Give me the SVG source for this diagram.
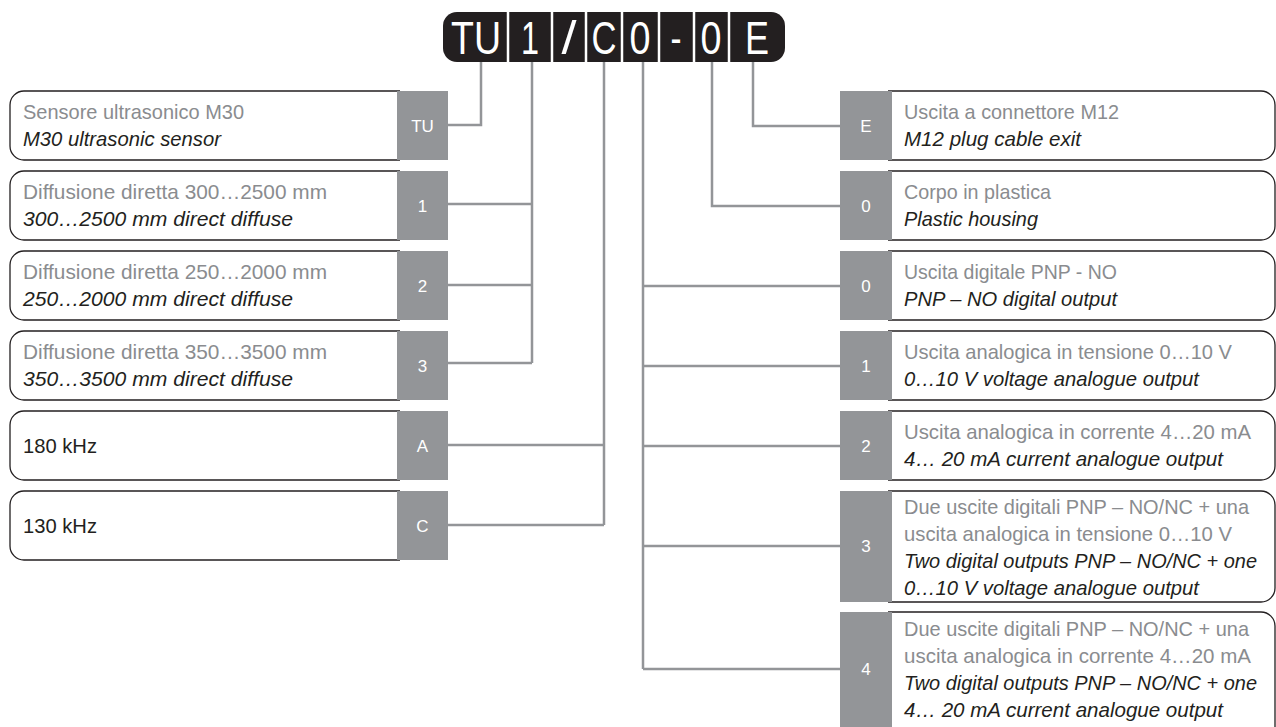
<svg xmlns="http://www.w3.org/2000/svg" width="1276" height="727" viewBox="0 0 1276 727">
<style>
.box{fill:#fff;stroke:#231f20;stroke-width:1.3}
.code{fill:#939598}
.lbl{font-family:"Liberation Sans",Arial,sans-serif;font-size:17px;fill:#fff;text-anchor:middle}
.it{font-family:"Liberation Sans",Arial,sans-serif;font-size:21px;fill:#8a8c8f}
.en{font-family:"Liberation Sans",Arial,sans-serif;font-size:21px;font-style:italic;fill:#231f20}
.plain{font-family:"Liberation Sans",Arial,sans-serif;font-size:21px;fill:#231f20}
.conn{fill:none;stroke:#939598;stroke-width:2.5}
.hd{font-family:"Liberation Sans",Arial,sans-serif;font-size:46px;fill:#fff;text-anchor:middle}
.div{stroke:#fff;stroke-width:2.5}
</style>
<rect width="1276" height="727" fill="#fff"/>
<g id="connectors">
<path class="conn" d="M448 125H481V60"/>
<path class="conn" d="M532 60V363M448 204H532M448 285H532M448 363H532"/>
<path class="conn" d="M604 60V525M448 445H604M448 525H604"/>
<path class="conn" d="M643 60V669M643 286H840M643 366H840M643 446H840M643 546H840M643 669H840"/>
<path class="conn" d="M712 60V206H840"/>
<path class="conn" d="M753 60V126H840"/>
</g>
<g id="header">
<rect x="443" y="12" width="342" height="50" rx="14" fill="#231f20"/>
<line class="div" x1="508" y1="12" x2="508" y2="62"/>
<line class="div" x1="552" y1="12" x2="552" y2="62"/>
<line class="div" x1="586" y1="12" x2="586" y2="62"/>
<line class="div" x1="622" y1="12" x2="622" y2="62"/>
<line class="div" x1="659" y1="12" x2="659" y2="62"/>
<line class="div" x1="694" y1="12" x2="694" y2="62"/>
<line class="div" x1="729" y1="12" x2="729" y2="62"/>
<text class="hd" x="476" y="54" textLength="50" lengthAdjust="spacingAndGlyphs">TU</text>
<text class="hd" x="530" y="54" textLength="18" lengthAdjust="spacingAndGlyphs">1</text>
<text class="hd" x="569" y="54" textLength="15" lengthAdjust="spacingAndGlyphs">/</text>
<text class="hd" x="604" y="54" textLength="25" lengthAdjust="spacingAndGlyphs">C</text>
<text class="hd" x="640" y="54" textLength="21" lengthAdjust="spacingAndGlyphs">0</text>
<text class="hd" x="676" y="54" textLength="11" lengthAdjust="spacingAndGlyphs">-</text>
<text class="hd" x="711" y="54" textLength="21" lengthAdjust="spacingAndGlyphs">0</text>
<text class="hd" x="757" y="54" textLength="24" lengthAdjust="spacingAndGlyphs">E</text>
</g>
<g id="n-TU">
<path class="box" d="M400 91H24A14 14 0 0 0 10 105V146A14 14 0 0 0 24 160H400"/>
<rect class="code" x="397" y="91" width="51" height="69"/>
<text class="lbl" x="422.5" y="132">TU</text>
<text class="it" x="23" y="119" textLength="221" lengthAdjust="spacingAndGlyphs">Sensore ultrasonico M30</text>
<text class="en" x="23" y="146" textLength="198" lengthAdjust="spacingAndGlyphs">M30 ultrasonic sensor</text>
</g>
<g id="n-1">
<path class="box" d="M400 171H24A14 14 0 0 0 10 185V226A14 14 0 0 0 24 240H400"/>
<rect class="code" x="397" y="171" width="51" height="69"/>
<text class="lbl" x="422.5" y="212">1</text>
<text class="it" x="23" y="199" textLength="304" lengthAdjust="spacingAndGlyphs">Diffusione diretta 300…2500 mm</text>
<text class="en" x="23" y="226" textLength="270" lengthAdjust="spacingAndGlyphs">300…2500 mm direct diffuse</text>
</g>
<g id="n-2">
<path class="box" d="M400 251H24A14 14 0 0 0 10 265V306A14 14 0 0 0 24 320H400"/>
<rect class="code" x="397" y="251" width="51" height="69"/>
<text class="lbl" x="422.5" y="292">2</text>
<text class="it" x="23" y="279" textLength="304" lengthAdjust="spacingAndGlyphs">Diffusione diretta 250…2000 mm</text>
<text class="en" x="23" y="306" textLength="270" lengthAdjust="spacingAndGlyphs">250…2000 mm direct diffuse</text>
</g>
<g id="n-3">
<path class="box" d="M400 331H24A14 14 0 0 0 10 345V386A14 14 0 0 0 24 400H400"/>
<rect class="code" x="397" y="331" width="51" height="69"/>
<text class="lbl" x="422.5" y="372">3</text>
<text class="it" x="23" y="359" textLength="304" lengthAdjust="spacingAndGlyphs">Diffusione diretta 350…3500 mm</text>
<text class="en" x="23" y="386" textLength="270" lengthAdjust="spacingAndGlyphs">350…3500 mm direct diffuse</text>
</g>
<g id="n-A">
<path class="box" d="M400 411H24A14 14 0 0 0 10 425V466A14 14 0 0 0 24 480H400"/>
<rect class="code" x="397" y="411" width="51" height="69"/>
<text class="lbl" x="422.5" y="452">A</text>
<text class="plain" x="23" y="453" textLength="74" lengthAdjust="spacingAndGlyphs">180 kHz</text>
</g>
<g id="n-C">
<path class="box" d="M400 491H24A14 14 0 0 0 10 505V546A14 14 0 0 0 24 560H400"/>
<rect class="code" x="397" y="491" width="51" height="69"/>
<text class="lbl" x="422.5" y="532">C</text>
<text class="plain" x="23" y="533" textLength="74" lengthAdjust="spacingAndGlyphs">130 kHz</text>
</g>
<g id="n-E">
<path class="box" d="M888 91H1261A14 14 0 0 1 1275 105V146A14 14 0 0 1 1261 160H888"/>
<rect class="code" x="840" y="91" width="52" height="69"/>
<text class="lbl" x="866" y="132">E</text>
<text class="it" x="904" y="119" textLength="215" lengthAdjust="spacingAndGlyphs">Uscita a connettore M12</text>
<text class="en" x="904" y="146" textLength="177" lengthAdjust="spacingAndGlyphs">M12 plug cable exit</text>
</g>
<g id="n-0a">
<path class="box" d="M888 171H1261A14 14 0 0 1 1275 185V226A14 14 0 0 1 1261 240H888"/>
<rect class="code" x="840" y="171" width="52" height="69"/>
<text class="lbl" x="866" y="212">0</text>
<text class="it" x="904" y="199" textLength="147" lengthAdjust="spacingAndGlyphs">Corpo in plastica</text>
<text class="en" x="904" y="226" textLength="134" lengthAdjust="spacingAndGlyphs">Plastic housing</text>
</g>
<g id="n-0b">
<path class="box" d="M888 251H1261A14 14 0 0 1 1275 265V306A14 14 0 0 1 1261 320H888"/>
<rect class="code" x="840" y="251" width="52" height="69"/>
<text class="lbl" x="866" y="292">0</text>
<text class="it" x="904" y="279" textLength="213" lengthAdjust="spacingAndGlyphs">Uscita digitale PNP - NO</text>
<text class="en" x="904" y="306" textLength="213" lengthAdjust="spacingAndGlyphs">PNP – NO digital output</text>
</g>
<g id="n-o1">
<path class="box" d="M888 331H1261A14 14 0 0 1 1275 345V386A14 14 0 0 1 1261 400H888"/>
<rect class="code" x="840" y="331" width="52" height="69"/>
<text class="lbl" x="866" y="372">1</text>
<text class="it" x="904" y="359" textLength="328" lengthAdjust="spacingAndGlyphs">Uscita analogica in tensione 0…10 V</text>
<text class="en" x="904" y="386" textLength="295" lengthAdjust="spacingAndGlyphs">0…10 V voltage analogue output</text>
</g>
<g id="n-o2">
<path class="box" d="M888 411H1261A14 14 0 0 1 1275 425V466A14 14 0 0 1 1261 480H888"/>
<rect class="code" x="840" y="411" width="52" height="69"/>
<text class="lbl" x="866" y="452">2</text>
<text class="it" x="904" y="439" textLength="347" lengthAdjust="spacingAndGlyphs">Uscita analogica in corrente 4…20 mA</text>
<text class="en" x="904" y="466" textLength="319" lengthAdjust="spacingAndGlyphs">4… 20 mA current analogue output</text>
</g>
<g id="n-o3">
<path class="box" d="M888 491H1261A14 14 0 0 1 1275 505V588A14 14 0 0 1 1261 602H888"/>
<rect class="code" x="840" y="491" width="52" height="111"/>
<text class="lbl" x="866" y="552">3</text>
<text class="it" x="904" y="514" textLength="345" lengthAdjust="spacingAndGlyphs">Due uscite digitali PNP – NO/NC + una</text>
<text class="it" x="904" y="541" textLength="328" lengthAdjust="spacingAndGlyphs">uscita analogica in tensione 0…10 V</text>
<text class="en" x="904" y="568" textLength="353" lengthAdjust="spacingAndGlyphs">Two digital outputs PNP – NO/NC + one</text>
<text class="en" x="904" y="595" textLength="295" lengthAdjust="spacingAndGlyphs">0…10 V voltage analogue output</text>
</g>
<g id="n-o4">
<path class="box" d="M888 612H1261A14 14 0 0 1 1275 626V740"/>
<rect class="code" x="840" y="612" width="52" height="115"/>
<text class="lbl" x="866" y="675">4</text>
<text class="it" x="904" y="636" textLength="345" lengthAdjust="spacingAndGlyphs">Due uscite digitali PNP – NO/NC + una</text>
<text class="it" x="904" y="663" textLength="347" lengthAdjust="spacingAndGlyphs">uscita analogica in corrente 4…20 mA</text>
<text class="en" x="904" y="690" textLength="353" lengthAdjust="spacingAndGlyphs">Two digital outputs PNP – NO/NC + one</text>
<text class="en" x="904" y="717" textLength="319" lengthAdjust="spacingAndGlyphs">4… 20 mA current analogue output</text>
</g>
</svg>
